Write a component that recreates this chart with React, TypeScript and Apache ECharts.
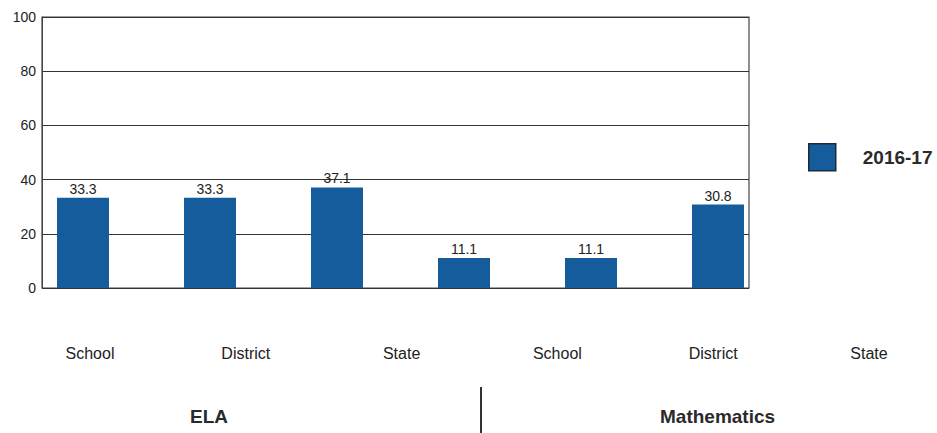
import React, { useEffect, useRef } from "react";
import * as echarts from "echarts";

const barCategories = ["ELA School", "ELA District", "ELA State", "Math School", "Math District", "Math State"];
const values2016_17 = [33.3, 33.3, 37.1, 11.1, 11.1, 30.8];
const tickLabels = ["School", "District", "State", "School", "District", "State"];
const groupLabels = ["ELA", "Mathematics"];
const seriesName = "2016-17";

const SANS = "'Liberation Sans', Arial, sans-serif";

export default function App() {
  const ref = useRef<HTMLDivElement>(null);
  useEffect(() => {
    if (!ref.current) return;
    const chart = echarts.init(ref.current, null, { renderer: "svg" });
    chart.setOption({
      animation: false,
      backgroundColor: "#ffffff",
      legend: {
        data: [seriesName],
        left: 803,
        top: 138,
        itemWidth: 27,
        itemHeight: 27,
        icon: "rect",
        itemStyle: { borderColor: "#1d2b38", borderWidth: 1.5 },
        textStyle: {
          fontFamily: SANS,
          fontWeight: "bold",
          fontSize: 19,
          color: "#2a2a2a",
          padding: [0, 0, 0, 22],
        },
      },
      grid: [
        { left: 42, right: 188, top: 17, bottom: 145, show: true, borderColor: "#444", borderWidth: 1.2 },
        { left: 19.5, right: 155.5, top: 17, bottom: 145 },
        { left: 90, right: 68, top: 344, height: 1 },
      ],
      xAxis: [
        { gridIndex: 0, type: "category", data: barCategories, show: false },
        { gridIndex: 1, type: "category", data: barCategories, show: false },
        {
          gridIndex: 2,
          type: "category",
          boundaryGap: false,
          data: tickLabels,
          axisLine: { show: false },
          axisTick: { show: false },
          axisLabel: { margin: 0, fontFamily: SANS, fontSize: 16, color: "#222" },
        },
      ],
      yAxis: [
        {
          gridIndex: 0,
          type: "value",
          min: 0,
          max: 100,
          interval: 20,
          axisLine: { show: true, lineStyle: { color: "#444" } },
          axisTick: { show: false },
          axisLabel: { margin: 6, fontFamily: SANS, fontSize: 14, color: "#222" },
          splitLine: { show: true, lineStyle: { color: "#333", width: 1.2 } },
        },
        { gridIndex: 1, type: "value", min: 0, max: 100, show: false },
        { gridIndex: 2, type: "value", show: false },
      ],
      series: [
        {
          name: seriesName,
          type: "bar",
          xAxisIndex: 1,
          yAxisIndex: 1,
          data: values2016_17,
          barWidth: 52,
          itemStyle: { color: "#145c9c" },
          label: {
            show: true,
            position: "top",
            distance: 2,
            fontFamily: SANS,
            fontSize: 14,
            color: "#222",
            formatter: (p: any) => p.value.toFixed(1),
          },
        },
      ],
      graphic: [
        {
          type: "text",
          left: 190,
          top: 407,
          style: { text: groupLabels[0], font: `bold 19px ${SANS}`, fill: "#2a2a2a" },
        },
        {
          type: "text",
          left: 660,
          top: 407,
          style: { text: groupLabels[1], font: `bold 19px ${SANS}`, fill: "#2a2a2a" },
        },
        {
          type: "line",
          shape: { x1: 481, y1: 387, x2: 481, y2: 433 },
          style: { stroke: "#333", lineWidth: 2 },
        },
      ],
    });
    return () => chart.dispose();
  }, []);
  return <div ref={ref} style={{ position: "fixed", left: 0, top: 0, width: 937, height: 433 }} />;
}
